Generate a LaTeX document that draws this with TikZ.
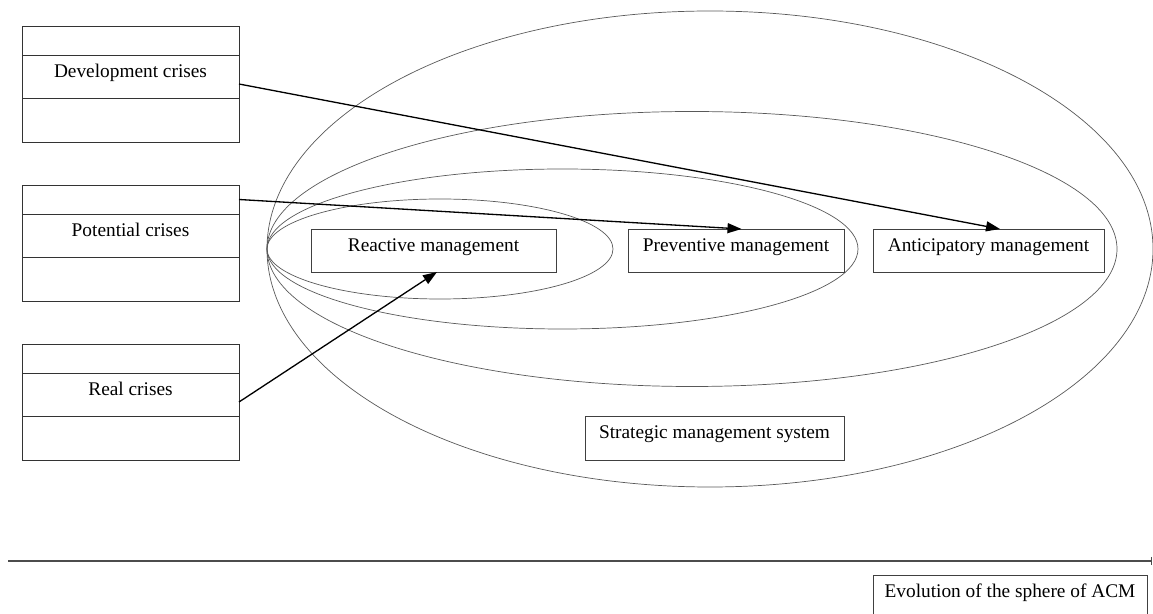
\documentclass[tikz,border=0pt]{standalone}
\usepackage{fontspec}
\setmainfont{Liberation Serif}
\usetikzlibrary{arrows.meta,fit}

\tikzset{
  band/.style={draw=black!80, line width=0.55pt, minimum width=4.34cm, outer sep=0pt, inner sep=0pt, text height=0.6em, text depth=0.5em},
  mgmt/.style={draw=black!75, line width=0.55pt, fill=white, minimum height=0.86cm, outer sep=0pt, inner sep=0pt, text height=0.6em, text depth=0.5em},
  orbit/.style={draw=black!65, line width=0.4pt},
  flow/.style={-{Triangle[length=0.28cm, width=0.2cm]}, line width=0.75pt, black},
}

\begin{document}
\begin{tikzpicture}[font=\fontsize{11}{13}\selectfont]
        \useasboundingbox (0,0) rectangle (23.06,-12.28);
        \clip (0,0) rectangle (23.06,-12.28);

        % nested spheres
        \foreach \cx/\rx/\ry in {8.80/3.46/1.0, 11.25/5.91/1.6, 13.84/8.5/2.75, 14.2/8.86/4.76} {
            \draw[orbit] (\cx,-4.98) ellipse [x radius=\rx, y radius=\ry];
        }

        % crisis boxes
        \foreach \n/\y/\t in {dev/-0.52/Development crises, pot/-3.70/Potential crises, real/-6.88/Real crises} {
            \node[band, minimum height=0.58cm, anchor=north west] (\n-a) at (0.44,\y) {};
            \node[band, minimum height=0.86cm, anchor=north] (\n-b) at (\n-a.south) {\t};
            \node[band, minimum height=0.88cm, anchor=north] (\n-c) at (\n-b.south) {};
            \node[fit=(\n-a)(\n-c), inner sep=0pt, outer sep=0pt] (\n) {};
        }

        % management types
        \node[mgmt, minimum width=4.9cm] (react) at (8.67,-5.01) {Reactive management};
        \node[mgmt, minimum width=4.32cm] (prev) at (14.72,-5.01) {Preventive management};
        \node[mgmt, minimum width=4.62cm] (antic) at (19.77,-5.01) {Anticipatory management};
        \node[mgmt, minimum width=5.18cm, minimum height=0.88cm] (strat) at (14.29,-8.76) {Strategic management system};

        \draw[flow] (dev.east) -- ([xshift=0.23cm]antic.north);
        \draw[flow] (pot-a.east) -- ([xshift=0.11cm]prev.north);
        \draw[flow] (real.east) -- ([xshift=0.07cm]react.south);

        % evolution axis
        \coordinate (axL) at (0.16,-11.22);
        \coordinate (axR) at (23.04,-11.22);
        \draw[-{Bar[width=0.16cm]}, draw=black!70, line width=0.8pt] (axL) -- (axR);
        \node[mgmt, minimum width=5.48cm, fill=none] (evol) at (20.2,-11.93) {Evolution of the sphere of ACM};
\end{tikzpicture}
\end{document}
